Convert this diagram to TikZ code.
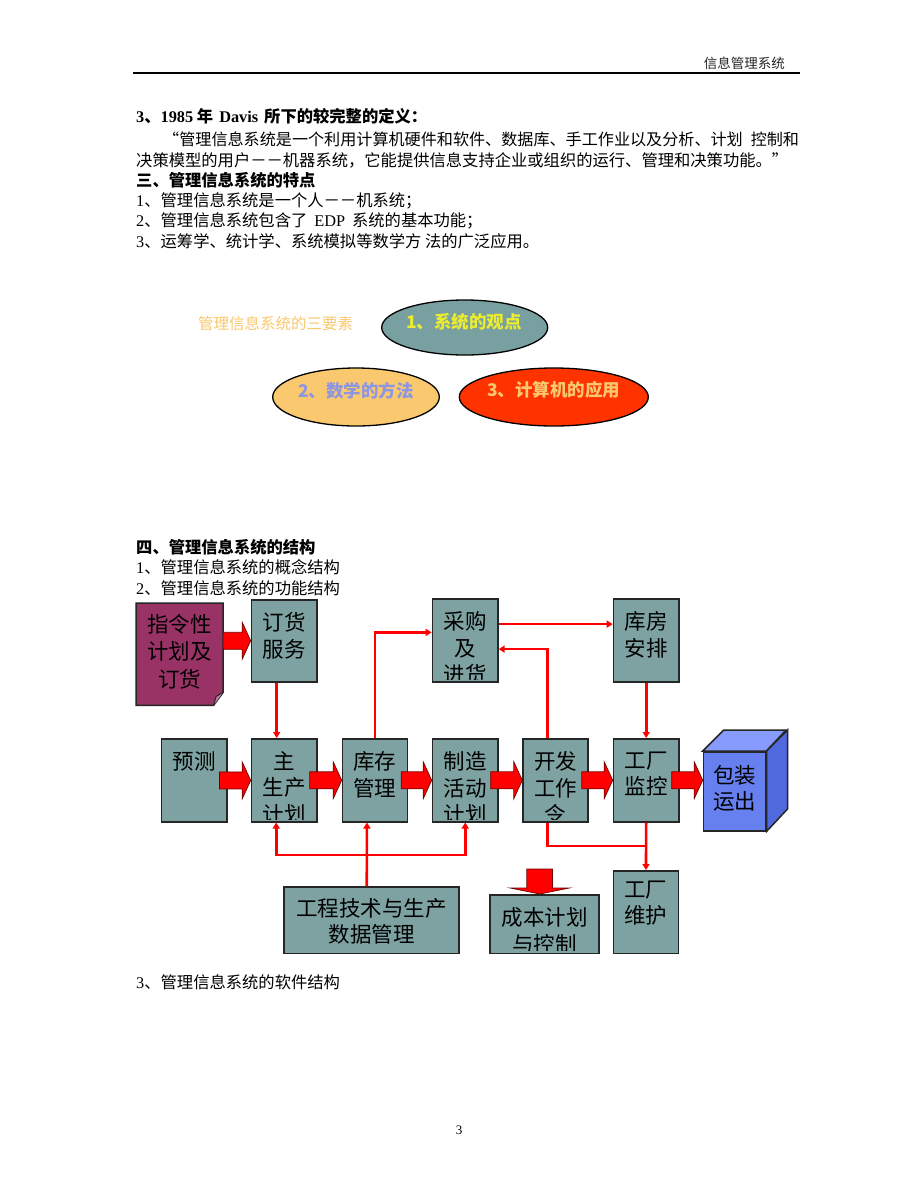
\documentclass[tikz,border=0pt]{standalone}
\usepackage{fontspec}
\setmainfont{Noto Sans CJK SC}
\newfontfamily\lat{Liberation Serif}
\usetikzlibrary{arrows.meta,calc,shapes.geometric}
\definecolor{boxc}{RGB}{126,162,162}
\definecolor{elteal}{RGB}{120,160,160}
\definecolor{lorange}{RGB}{250,200,110}
\definecolor{peri}{RGB}{140,150,225}
\definecolor{redor}{RGB}{255,51,0}
\definecolor{ylw}{RGB}{235,235,50}
\definecolor{maroonc}{RGB}{153,51,102}
\definecolor{cubef}{RGB}{102,128,240}
\definecolor{cubet}{RGB}{135,155,255}
\definecolor{cubes}{RGB}{80,105,220}
\newcommand\tbox[7][13.3]{\node[bx,minimum width=#5pt,minimum height=#6pt] (#2) at (#3,#4) {};
  \begin{scope}\clip ([shift={(1pt,-1pt)}]#2.north west) rectangle ([shift={(-1pt,3.5pt)}]#2.south east);
  \node[bt] (#2t) at ([yshift=-#1pt]#2.north) {#7};\end{scope}}
\newcommand\barrow[4]{\path let \p1=(#1.east),\p2=(#2.west),\p3=(#4.center) in
  [draw=black!55!red,line width=0.7pt,fill=red,line join=miter]
  (\x1-#3,\y3+8.5pt) -- (\x2-8.5pt,\y3+8.5pt) -- (\x2-8.5pt,\y3+18.5pt) -- (\x2,\y3)
  -- (\x2-8.5pt,\y3-18.5pt) -- (\x2-8.5pt,\y3-8.5pt) -- (\x1-#3,\y3-8.5pt) -- cycle;}
\begin{document}
\begin{tikzpicture}[x=1pt,y=-1pt,
 txt/.style={anchor=west,inner sep=0pt,font=\fontsize{16.3}{19}\selectfont},
 btxt/.style={anchor=west,inner sep=0pt,font=\bfseries\fontsize{16.3}{19}\selectfont},
 bx/.style={draw=black!85,line width=1.5pt,fill=boxc,inner sep=0pt,anchor=north west},
 bt/.style={anchor=north,inner sep=0pt,align=center,font=\fontsize{21.5}{26.5}\selectfont},
 rl/.style={draw=red,line width=2.6pt,-{Triangle[length=6pt,width=7pt]}},
 rln/.style={draw=red,line width=2.6pt},
 el/.style={ellipse,draw=black,line width=1.3pt,inner sep=0pt},
 elt/.style={inner sep=0pt,font=\bfseries\fontsize{17.5}{20}\selectfont}]
\useasboundingbox[fill=white] (0,0) rectangle (920,1191);
% header
\node[anchor=east,inner sep=0pt,font=\fontsize{13.5}{16}\selectfont,text=black!85] (hdr) at (785,63) {信息管理系统};
\draw[line width=1.5pt] (133,73) -- (800,73);
% text
\node[btxt] (l1) at (136,116) {{\lat 3}、{\lat 1985} 年\hspace{6pt}{\lat Davis}\hspace{6pt}所下的较完整的定义：};
\node[txt,font=\fontsize{16.1}{19}\selectfont] (l2) at (163,139) {“管理信息系统是一个利用计算机硬件和软件、数据库、手工作业以及分析、计划\hspace{8pt}控制和};
\node[txt] (l3) at (136,160) {决策模型的用户－－机器系统，它能提供信息支持企业或组织的运行、管理和决策功能。”};
\node[btxt] (l4) at (136,180) {三、管理信息系统的特点};
\node[txt] (l5) at (136,201) {{\lat 1}、管理信息系统是一个人－－机系统；};
\node[txt] (l6) at (136,221) {{\lat 2}、管理信息系统包含了\hspace{7pt}{\lat EDP}\hspace{7pt}系统的基本功能；};
\node[txt] (l7) at (136,241) {{\lat 3}、运筹学、统计学、系统模拟等数学方 法的广泛应用。};
% three elements
\node[anchor=west,inner sep=0pt,text=lorange,font=\fontsize{15.5}{18}\selectfont] (ttl) at (198,324) {管理信息系统的三要素};
\node[el,fill=elteal,minimum width=166pt,minimum height=55pt] (e1) at (464.7,327.5) {};
\node[el,fill=lorange,minimum width=166.6pt,minimum height=58pt] (e2) at (356,397) {};
\node[el,fill=redor,minimum width=189pt,minimum height=58pt] (e3) at (553.8,397) {};
\node[elt,text=ylw] (e1t) at (464,322) {1、系统的观点};
\node[elt,text=peri] (e2t) at (356,391) {2、数学的方法};
\node[elt,text=lorange] (e3t) at (553.8,390) {3、计算机的应用};
% section 4
\node[btxt] (s1) at (136,547) {四、管理信息系统的结构};
\node[txt] (s2) at (136,567) {{\lat 1}、管理信息系统的概念结构};
\node[txt] (s3) at (136,588) {{\lat 2}、管理信息系统的功能结构};
\node[txt] (s4) at (136,982) {{\lat 3}、管理信息系统的软件结构};
\node[inner sep=0pt,font=\lat\fontsize{13}{15}\selectfont] (pg) at (459,1130) {3};
% diagram boxes
\node[inner sep=0pt,minimum width=86.7pt,minimum height=102pt,anchor=north west] (order) at (136,603) {};
\draw[line width=1.5pt,draw=black!85,fill=maroonc] (order.north west) -- (order.north east) -- ([yshift=13pt]order.south east) -- ([xshift=-9.5pt]order.south east) -- (order.south west) -- cycle;
\draw[line width=1pt,draw=black!85,fill=maroonc!65!white] ([xshift=-9.5pt]order.south east) -- ([xshift=-7pt,yshift=9pt]order.south east) -- ([yshift=13pt]order.south east);
\node[bt,font=\fontsize{21.5}{27.5}\selectfont] (ordert) at ([yshift=-11pt]order.north) {指令性\\计划及\\订货};
\tbox{svc}{250.7}{599}{65.5}{82}{订货\\服务}
\tbox{purch}{431.7}{598.3}{65.5}{82.7}{采购\\及\\进货}
\tbox{wh}{612.7}{598.3}{65.5}{82.7}{库房\\安排}
\tbox{fc}{160.7}{738.3}{65.3}{82.7}{预测}
\tbox{mps}{250.7}{738}{65.5}{83}{主\\生产\\计划}
\tbox{inv}{341.7}{738}{65}{83}{库存\\管理}
\tbox{mfg}{431.7}{738}{65.5}{83}{制造\\活动\\计划}
\tbox{wo}{522.3}{738}{65}{83}{开发\\工作\\令}
\tbox{pm}{612.7}{738}{65.5}{83}{工厂\\监控}
\tbox[12]{eng}{283.3}{886}{175}{66.7}{工程技术与生产\\数据管理}
\tbox{cost}{489.3}{894}{109}{58.7}{成本计划\\与控制}
\tbox[10.5]{maint}{612.7}{870}{65}{82.7}{工厂\\维护}
% cube
\node[inner sep=0pt,minimum width=62.3pt,minimum height=79pt,anchor=north west,draw=black!85,line width=1.5pt,fill=cubef] (pack) at (702.7,751) {};
\draw[line width=1.5pt,draw=black!85,fill=cubet] (pack.north west) -- ++(21,-21) -- ++(62.3,0) -- (pack.north east) -- cycle;
\draw[line width=1.5pt,draw=black!85,fill=cubes] (pack.north east) -- ++(21,-21) -- ++(0,79) -- (pack.south east) -- cycle;
\node[bt] (packt) at ([yshift=-14pt]pack.north) {包装\\运出};
% thin connectors
\draw[rl] ([xshift=-7.5pt]svc.south) -- ([xshift=-7.5pt]mps.north);
\draw[rl] (inv.north) |- ([yshift=8pt]purch.west);
\draw[rl] ([yshift=16.3pt]purch.east) -- ([yshift=16.3pt]wh.west);
\draw[rl] ([xshift=-8pt]wo.north) |- ([yshift=-8.7pt]purch.east);
\draw[rl] (wh.south) -- (pm.north);
\draw[rl] (pm.south) -- (maint.north);
\coordinate (j1) at ($(pm.south)+(0,23.3)$);
\draw[rln] ([xshift=-8pt]wo.south) |- (j1);
\coordinate (j2) at ($([xshift=-8pt]inv.south)+(0,32.3)$);
\draw[rl] ([xshift=-4.8pt]eng.north) -- ([xshift=-8pt]inv.south);
\draw[rl] (j2) -| ([xshift=-8pt]mps.south);
\draw[rl] (j2) -| (mfg.south);
% block arrows
\barrow{order}{svc}{0pt}{svc}
\barrow{fc}{mps}{8pt}{fc}
\barrow{mps}{inv}{8pt}{mps}
\barrow{inv}{mfg}{7pt}{inv}
\barrow{mfg}{wo}{8pt}{mfg}
\barrow{wo}{pm}{7pt}{wo}
\barrow{pm}{pack}{8pt}{pm}
\path[draw=black!55!red,line width=0.7pt,fill=red,line join=miter]
  ($(cost.north)+(-4.8,0)$) -- ($(cost.north)+(-34.3,-6)$) -- ($(cost.north)+(-17.8,-6)$)
  -- ($(cost.north)+(-17.8,-25)$) -- ($(cost.north)+(7.9,-25)$) -- ($(cost.north)+(7.9,-6)$)
  -- ($(cost.north)+(24.7,-6)$) -- cycle;
\end{tikzpicture}
\end{document}
